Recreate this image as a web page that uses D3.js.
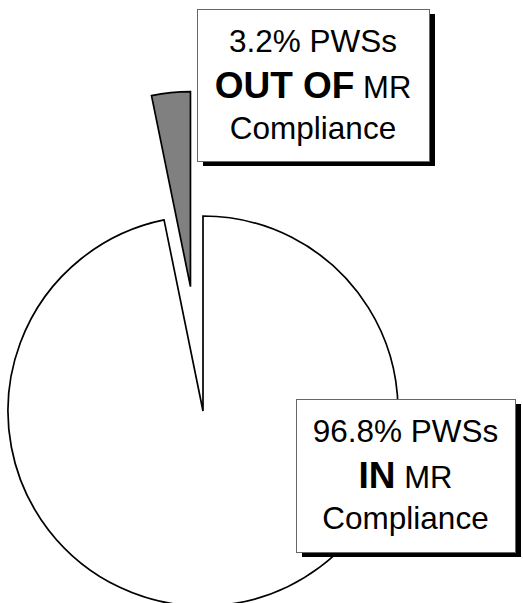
<!DOCTYPE html>
<html>
<head>
<meta charset="utf-8">
<script src="https://cdn.jsdelivr.net/npm/d3@7"></script>
<style>
  html, body { margin: 0; padding: 0; background: #fff; }
  svg { display: block; }
</style>
</head>
<body>
<svg></svg>
<script>
// chart data
var categories = ["IN", "OUT OF"];
var values = [96.8, 3.2];
var unitLabel = "PWSs";
var midWord = "MR";
var lastLine = "Compliance";
var sliceColors = ["#ffffff", "#808080"];

var svgWidth = 523, svgHeight = 603;

var svg = d3.select("svg")
    .attr("width", svgWidth)
    .attr("height", svgHeight);

var cx = 203, cy = 411, radius = 195;
var explode = [0, 125];

var pie = d3.pie()
    .sort(null)
    .value(function(d) { return d; });

var arc = d3.arc()
    .innerRadius(0)
    .outerRadius(radius);

var slices = pie(values);

svg.append("g")
    .attr("transform", "translate(" + cx + "," + cy + ")")
    .selectAll("path")
    .data(slices)
    .enter().append("path")
    .attr("d", arc)
    .attr("transform", function(d, i) {
        var mid = (d.startAngle + d.endAngle) / 2;
        return "translate(" + (Math.sin(mid) * explode[i]) + "," + (-Math.cos(mid) * explode[i]) + ")";
    })
    .attr("fill", function(d, i) { return sliceColors[i]; })
    .attr("stroke", "#000")
    .attr("stroke-width", 1.7)
    .attr("stroke-linejoin", "miter");

// label boxes (layout)
var boxes = [
    {x: 296, y: 399, w: 219, h: 153},
    {x: 197, y: 9, w: 232, h: 152}
];
var fmt = d3.format(".1f");
var font = "'Liberation Sans', Arial, sans-serif";

var lab = svg.selectAll("g.lab")
    .data(categories)
    .enter().append("g")
    .attr("class", "lab")
    .attr("transform", function(d, i) { return "translate(" + boxes[i].x + "," + boxes[i].y + ")"; });

lab.append("rect")
    .attr("x", 6).attr("y", 5)
    .attr("width", function(d, i) { return boxes[i].w; })
    .attr("height", function(d, i) { return boxes[i].h; })
    .attr("fill", "#000");

lab.append("rect")
    .attr("x", 0.5).attr("y", 0.5)
    .attr("width", function(d, i) { return boxes[i].w; })
    .attr("height", function(d, i) { return boxes[i].h; })
    .attr("fill", "#fff")
    .attr("stroke", "#666")
    .attr("stroke-width", 1);

var txt = lab.append("text")
    .attr("text-anchor", "middle")
    .attr("font-family", font)
    .attr("fill", "#000");

txt.append("tspan")
    .attr("x", function(d, i) { return boxes[i].w / 2; })
    .attr("y", 43)
    .attr("font-size", 31.5)
    .text(function(d, i) { return fmt(values[i]) + "% " + unitLabel; });

var l2 = txt.append("tspan")
    .attr("x", function(d, i) { return boxes[i].w / 2; })
    .attr("y", 89);
l2.append("tspan")
    .attr("font-size", 37)
    .attr("font-weight", "bold")
    .text(function(d) { return d; });
l2.append("tspan")
    .attr("font-size", 31)
    .text(" " + midWord);

txt.append("tspan")
    .attr("x", function(d, i) { return boxes[i].w / 2; })
    .attr("y", 130)
    .attr("font-size", 31.5)
    .text(lastLine);
</script>
</body>
</html>
